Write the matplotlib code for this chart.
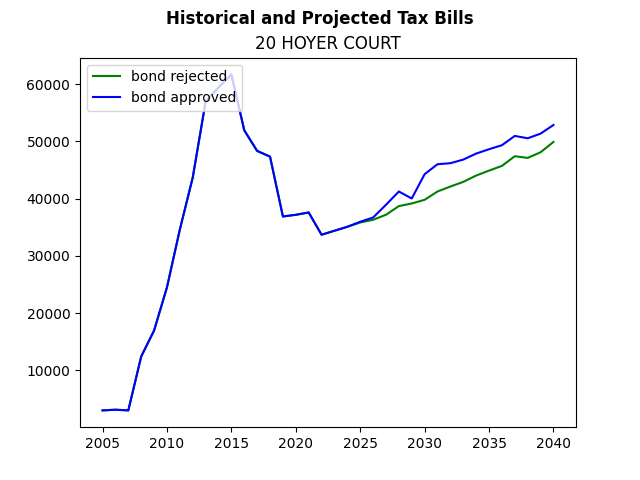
import matplotlib
matplotlib.use("Agg")
import matplotlib.pyplot as plt

years = list(range(2005, 2041))
bond_rejected = [3030, 3150, 3030, 12440, 16970, 24510, 34600, 43670, 56900, 59400,
                 61680, 51930, 48320, 47330, 36880, 37170, 37580, 33690, 34390, 35080,
                 35830, 36300, 37180, 38690, 39150, 39790, 41240, 42110, 42920, 44020,
                 44890, 45710, 47400, 47100, 48090, 49890]
bond_approved = [3030, 3150, 3030, 12440, 16970, 24510, 34600, 43670, 56900, 59400,
                 61680, 51930, 48320, 47330, 36880, 37170, 37580, 33690, 34390, 35080,
                 35960, 36700, 38920, 41240, 40020, 44260, 46000, 46180, 46810, 47860,
                 48620, 49320, 50940, 50530, 51340, 52850]

fig, ax = plt.subplots(figsize=(6.4, 4.8), dpi=100)
ax.plot(years, bond_rejected, color="green", label="bond rejected")
ax.plot(years, bond_approved, color="blue", label="bond approved")
fig.suptitle("Historical and Projected Tax Bills", fontweight="bold")
ax.set_title("20 HOYER COURT")
ax.legend(loc="upper left")
fig.savefig("out.png")
